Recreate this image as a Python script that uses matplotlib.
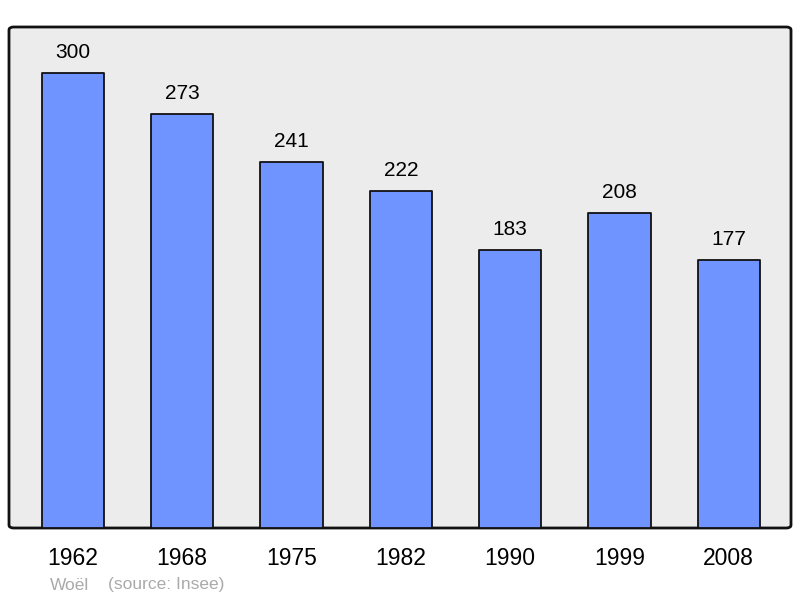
import matplotlib.pyplot as plt
from matplotlib.patches import FancyBboxPatch

plt.rcParams['font.family'] = ['Liberation Sans', 'DejaVu Sans']

years = ['1962', '1968', '1975', '1982', '1990', '1999', '2008']
population = [300, 273, 241, 222, 183, 208, 177]

fig = plt.figure(figsize=(8, 5.98), dpi=100)
ax = fig.add_axes([9 / 800, 70 / 598, 782 / 800, 501 / 598])
ax.set_facecolor('none')

# rounded grey frame behind the bars
frame = FancyBboxPatch((0, 0), 1, 1, boxstyle='round,pad=0,rounding_size=0.006',
                       transform=ax.transAxes, facecolor='#ececec',
                       edgecolor='#111111', linewidth=2, zorder=0, clip_on=False)
ax.add_patch(frame)

x = list(range(len(years)))
bars = ax.bar(x, population, width=0.57, color='#7094ff',
              edgecolor='#111111', linewidth=1.3, zorder=2)
for b in bars:
    b.set_joinstyle('round')

for xi, v in zip(x, population):
    ax.text(xi, v + 13.5, str(v), ha='center', va='center', fontsize=15)

ax.set_xlim(-0.585, 6.57)
ax.set_ylim(0, 330.3)
for s in ax.spines.values():
    s.set_visible(False)
ax.set_yticks([])
ax.set_xticks(x)
ax.set_xticklabels(years, fontsize=16.5)
ax.tick_params(axis='x', length=0, pad=14)

fig.text(50 / 800, 1 - 585 / 598, 'Woël', color='#aaaaaa', fontsize=12.5,
         ha='left', va='center')
fig.text(108 / 800, 1 - 585 / 598, '(source: Insee)', color='#aaaaaa',
         fontsize=12.5, ha='left', va='center')

fig.savefig('out.png', dpi=100)
